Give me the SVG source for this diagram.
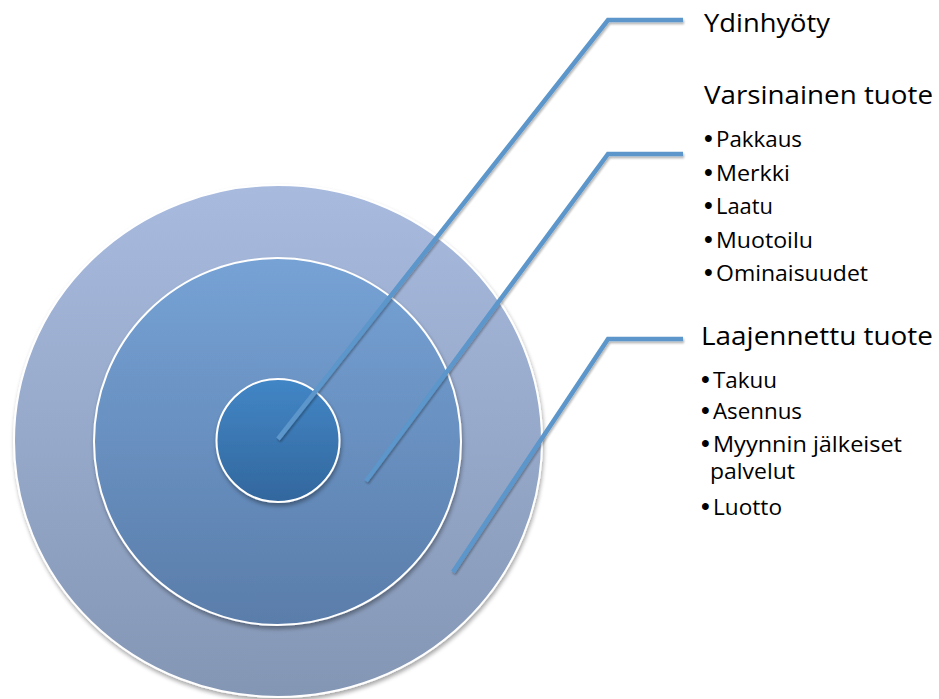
<svg xmlns="http://www.w3.org/2000/svg" width="939" height="699" viewBox="0 0 939 699">
<defs>
<linearGradient id="gOuter" x1="0" y1="0" x2="0" y2="1">
<stop offset="0" stop-color="#a8bbdf"/>
<stop offset="1" stop-color="#8396b4"/>
</linearGradient>
<linearGradient id="gMid" x1="0" y1="0" x2="0" y2="1">
<stop offset="0" stop-color="#76a2d5"/>
<stop offset="1" stop-color="#5a7daa"/>
</linearGradient>
<linearGradient id="gInner" x1="0" y1="0" x2="0" y2="1">
<stop offset="0" stop-color="#4286c6"/>
<stop offset="1" stop-color="#32679d"/>
</linearGradient>
<filter id="sh" x="-20%" y="-20%" width="140%" height="140%">
<feGaussianBlur in="SourceAlpha" stdDeviation="2"/>
<feOffset dx="1" dy="3" result="b"/>
<feComponentTransfer><feFuncA type="linear" slope="0.35"/></feComponentTransfer>
<feMerge><feMergeNode/><feMergeNode in="SourceGraphic"/></feMerge>
</filter>
<filter id="lsh" x="-10%" y="-10%" width="120%" height="120%">
<feGaussianBlur in="SourceAlpha" stdDeviation="1.2"/>
<feOffset dx="1" dy="2"/>
<feComponentTransfer><feFuncA type="linear" slope="0.3"/></feComponentTransfer>
<feMerge><feMergeNode/><feMergeNode in="SourceGraphic"/></feMerge>
</filter>
</defs>
<style>
.ring{stroke:#ffffff;stroke-width:2;filter:url(#sh)}
.conn{fill:none;stroke:#5b96cb;stroke-width:4.5;stroke-linejoin:miter;stroke-linecap:butt;filter:url(#lsh)}
.t{font-family:"Open Sans","Liberation Sans",sans-serif;fill:#000000}
.h{font-size:26px}
.b{font-size:22px}
.d{font-family:"Liberation Sans",sans-serif;font-size:25px;fill:#000000}
</style>
<g id="outer-ring"><ellipse class="ring" cx="278" cy="441" rx="264" ry="256" fill="url(#gOuter)"/></g>
<g id="middle-ring"><circle class="ring" cx="277.5" cy="441.5" r="183.5" fill="url(#gMid)"/></g>
<g id="inner-ring"><circle class="ring" cx="278" cy="440.5" r="61.5" fill="url(#gInner)"/></g>
<g id="connectors">
<polyline class="conn" points="278,439 608,20 683,20"/>
<polyline class="conn" points="366,481 608,154 683,154"/>
<polyline class="conn" points="453,572 608,339 683,339"/>
</g>
<g id="ydinhyoty">
<text class="t h" x="704" y="32" textLength="126" lengthAdjust="spacingAndGlyphs">Ydinhyöty</text>
</g>
<g id="varsinainen-tuote">
<text class="t h" x="704" y="104" textLength="229" lengthAdjust="spacingAndGlyphs">Varsinainen tuote</text>
<text class="d" x="704" y="147">•</text>
<text class="t b" x="716" y="147" textLength="86" lengthAdjust="spacingAndGlyphs">Pakkaus</text>
<text class="d" x="704" y="180.5">•</text>
<text class="t b" x="716" y="180.5" textLength="74" lengthAdjust="spacingAndGlyphs">Merkki</text>
<text class="d" x="704" y="214">•</text>
<text class="t b" x="716" y="214" textLength="57" lengthAdjust="spacingAndGlyphs">Laatu</text>
<text class="d" x="704" y="247.5">•</text>
<text class="t b" x="716" y="247.5" textLength="97" lengthAdjust="spacingAndGlyphs">Muotoilu</text>
<text class="d" x="704" y="281">•</text>
<text class="t b" x="716" y="281" textLength="152" lengthAdjust="spacingAndGlyphs">Ominaisuudet</text>
</g>
<g id="laajennettu-tuote">
<text class="t h" x="701" y="345" textLength="232" lengthAdjust="spacingAndGlyphs">Laajennettu tuote</text>
<text class="d" x="701" y="388">•</text>
<text class="t b" x="713" y="388" textLength="64" lengthAdjust="spacingAndGlyphs">Takuu</text>
<text class="d" x="701" y="419">•</text>
<text class="t b" x="713" y="419" textLength="89" lengthAdjust="spacingAndGlyphs">Asennus</text>
<text class="d" x="701" y="452">•</text>
<text class="t b" x="713" y="452" textLength="189" lengthAdjust="spacingAndGlyphs">Myynnin jälkeiset</text>
<text class="t b" x="710" y="479" textLength="85" lengthAdjust="spacingAndGlyphs">palvelut</text>
<text class="d" x="701" y="515">•</text>
<text class="t b" x="713" y="515" textLength="69" lengthAdjust="spacingAndGlyphs">Luotto</text>
</g>
</svg>
